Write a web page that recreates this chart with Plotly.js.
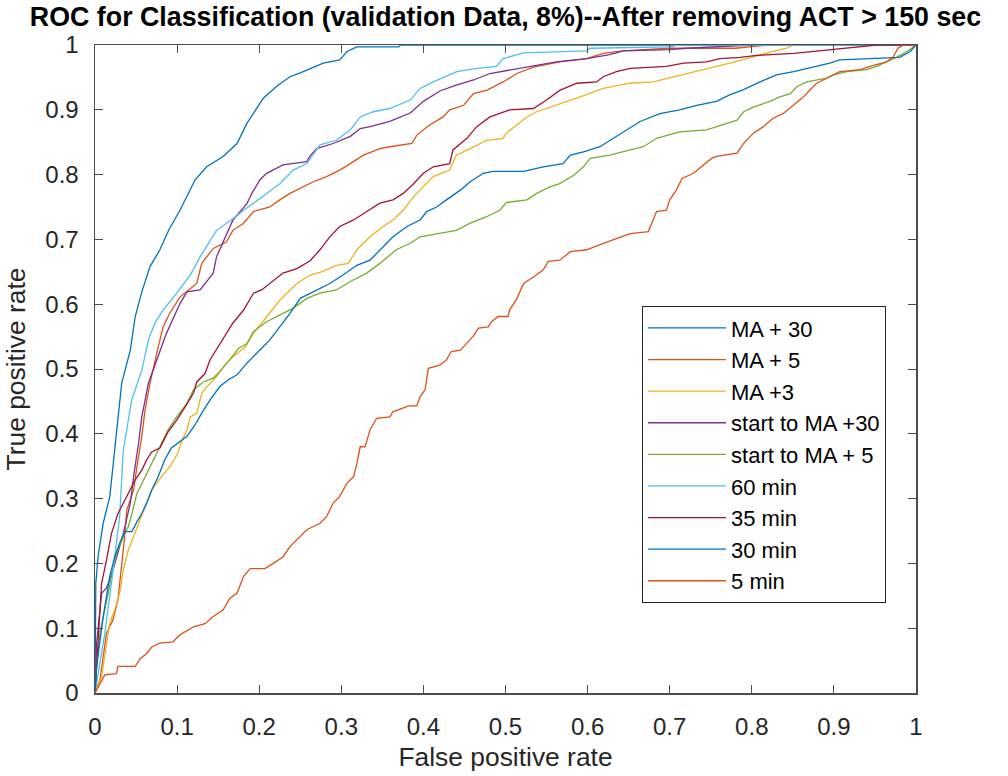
<!DOCTYPE html>
<html>
<head>
<meta charset="utf-8">
<script src="https://cdn.plot.ly/plotly-3.0.1.min.js"></script>
<style>
  html, body { margin: 0; padding: 0; background: #fff; }
  #chart { width: 1008px; height: 776px; }
</style>
</head>
<body>
<div id="chart"></div>
<script>
// Series names (legend order)
const seriesNames = ["MA + 30", "MA + 5", "MA +3", "start to MA +30", "start to MA + 5", "60 min", "35 min", "30 min", "5 min"];
const seriesColors = ["#0072BD", "#D95319", "#EDB120", "#7E2F8E", "#77AC30", "#4DBEEE", "#A2142F", "#0072BD", "#D95319"];

// MA + 30 (upper dark blue)
const ma30_fpr = [0,0.001,0.004,0.010,0.018,0.024,0.0325,0.043,0.049,0.057,0.067,0.079,0.09,0.1035,0.122,0.136,0.156,0.173,0.185,0.205,0.221,0.2375,0.25,0.278,0.298,0.307,0.319,0.37,0.372,1];
const ma30_tpr = [0,0.17,0.213,0.262,0.303,0.375,0.478,0.529,0.581,0.619,0.658,0.684,0.715,0.745,0.792,0.812,0.828,0.848,0.879,0.918,0.936,0.951,0.957,0.972,0.977,0.99,0.997,0.997,1,1];

// MA + 5 (upper orange)
const ma5_fpr = [0,0.006,0.014,0.022,0.028,0.0325,0.0365,0.0386,0.047,0.051,0.057,0.061,0.067,0.077,0.083,0.091,0.1035,0.114,0.124,0.13,0.144,0.16,0.168,0.181,0.193,0.213,0.225,0.2375,0.25,0.266,0.282,0.298,0.311,0.327,0.347,0.359,0.386,0.392,0.408,0.424,0.432,0.449,0.461,0.477,0.497,0.514,0.534,0.566,0.599,0.619,0.643,0.70,0.78,0.82,1];
const ma5_tpr = [0,0.02,0.092,0.113,0.144,0.195,0.246,0.282,0.313,0.349,0.396,0.437,0.478,0.534,0.565,0.586,0.611,0.622,0.632,0.663,0.686,0.696,0.714,0.725,0.743,0.75,0.761,0.771,0.779,0.789,0.797,0.807,0.817,0.83,0.84,0.843,0.848,0.861,0.877,0.889,0.9,0.907,0.925,0.93,0.943,0.956,0.966,0.974,0.979,0.987,0.991,0.995,0.995,1,1];

// MA +3 (yellow)
const ma3_fpr = [0,0.002,0.008,0.012,0.018,0.024,0.03,0.0345,0.0406,0.047,0.053,0.061,0.069,0.081,0.091,0.101,0.106,0.112,0.116,0.124,0.13,0.138,0.148,0.158,0.168,0.183,0.193,0.209,0.225,0.246,0.262,0.274,0.294,0.3085,0.319,0.335,0.351,0.363,0.3755,0.388,0.4,0.412,0.432,0.44,0.457,0.477,0.497,0.501,0.514,0.526,0.538,0.554,0.5705,0.591,0.619,0.652,0.68,0.70,0.733,0.753,0.773,0.794,0.81,0.826,0.8425,0.85,1];
const ma3_tpr = [0,0.005,0.025,0.056,0.108,0.128,0.154,0.19,0.221,0.241,0.262,0.288,0.313,0.334,0.349,0.37,0.39,0.406,0.426,0.432,0.463,0.475,0.488,0.506,0.519,0.534,0.555,0.581,0.606,0.632,0.645,0.649,0.66,0.663,0.684,0.704,0.72,0.73,0.745,0.766,0.781,0.797,0.807,0.83,0.84,0.853,0.856,0.864,0.877,0.889,0.897,0.904,0.91,0.92,0.933,0.941,0.943,0.949,0.959,0.966,0.972,0.979,0.985,0.99,0.995,1,1];

// start to MA +30 (purple)
const sma30_fpr = [0,0.002,0.008,0.014,0.022,0.0345,0.043,0.047,0.053,0.057,0.065,0.075,0.087,0.1035,0.112,0.128,0.144,0.148,0.168,0.185,0.191,0.201,0.209,0.229,0.258,0.262,0.27,0.29,0.311,0.323,0.335,0.359,0.384,0.40,0.42,0.44,0.461,0.481,0.505,0.538,0.562,0.599,0.627,0.643,0.70,0.72,0.80,1];
const sma30_tpr = [0,0.077,0.154,0.162,0.19,0.246,0.293,0.334,0.385,0.426,0.478,0.514,0.555,0.601,0.619,0.622,0.648,0.673,0.73,0.755,0.771,0.792,0.802,0.815,0.82,0.829,0.84,0.848,0.859,0.871,0.874,0.882,0.895,0.913,0.929,0.938,0.946,0.956,0.961,0.969,0.974,0.979,0.985,0.991,0.993,0.995,1,1];

// start to MA + 5 (green)
const sma5_fpr = [0,0.002,0.006,0.012,0.018,0.026,0.0345,0.0406,0.045,0.051,0.057,0.065,0.073,0.081,0.089,0.0995,0.112,0.12,0.132,0.144,0.152,0.164,0.175,0.185,0.193,0.209,0.225,0.2415,0.258,0.274,0.294,0.311,0.331,0.347,0.367,0.384,0.396,0.416,0.44,0.457,0.477,0.493,0.501,0.526,0.538,0.554,0.566,0.583,0.595,0.603,0.627,0.652,0.668,0.684,0.712,0.745,0.765,0.782,0.79,0.802,0.822,0.834,0.847,0.855,0.867,0.891,0.899,0.916,0.94,0.952,0.964,0.976,0.989,1];
const sma5_tpr = [0,0.041,0.092,0.128,0.169,0.216,0.241,0.257,0.277,0.308,0.323,0.344,0.365,0.385,0.406,0.426,0.447,0.468,0.48,0.486,0.496,0.514,0.532,0.539,0.558,0.573,0.583,0.594,0.609,0.617,0.622,0.635,0.648,0.663,0.684,0.694,0.704,0.709,0.714,0.725,0.735,0.745,0.757,0.761,0.771,0.781,0.786,0.799,0.812,0.825,0.83,0.838,0.843,0.856,0.866,0.869,0.877,0.884,0.897,0.904,0.913,0.92,0.925,0.936,0.943,0.949,0.954,0.959,0.962,0.967,0.974,0.981,0.99,1];

// 60 min (light blue)
const m60_fpr = [0,0.005,0.012,0.020,0.030,0.0345,0.0447,0.057,0.065,0.073,0.083,0.0995,0.116,0.128,0.148,0.168,0.181,0.201,0.225,0.2415,0.258,0.274,0.294,0.311,0.323,0.339,0.359,0.384,0.396,0.412,0.4406,0.465,0.489,0.497,0.522,0.599,0.603,0.70,0.71,1];
const m60_tpr = [0,0.04,0.092,0.169,0.272,0.375,0.452,0.498,0.545,0.571,0.591,0.617,0.645,0.673,0.714,0.732,0.745,0.763,0.786,0.807,0.817,0.846,0.853,0.869,0.889,0.897,0.902,0.915,0.933,0.943,0.959,0.964,0.967,0.979,0.988,0.991,0.995,0.997,1,1];

// 35 min (dark red)
const m35_fpr = [0,0.004,0.008,0.014,0.02,0.028,0.0345,0.0406,0.049,0.057,0.063,0.069,0.079,0.089,0.0995,0.11,0.12,0.124,0.134,0.14,0.15,0.156,0.168,0.181,0.193,0.203,0.213,0.229,0.246,0.262,0.274,0.286,0.298,0.315,0.331,0.347,0.363,0.3755,0.388,0.4,0.412,0.432,0.436,0.453,0.465,0.481,0.505,0.534,0.55,0.566,0.587,0.611,0.619,0.635,0.652,0.696,0.717,0.745,0.761,0.786,0.806,0.851,0.891,0.928,0.952,1];
const m35_tpr = [0,0.077,0.169,0.205,0.246,0.277,0.293,0.308,0.329,0.344,0.36,0.372,0.378,0.403,0.421,0.442,0.463,0.48,0.493,0.514,0.534,0.547,0.571,0.591,0.617,0.622,0.632,0.648,0.655,0.667,0.684,0.704,0.72,0.73,0.743,0.756,0.761,0.771,0.786,0.802,0.812,0.817,0.838,0.856,0.874,0.889,0.9,0.902,0.915,0.93,0.941,0.943,0.951,0.959,0.964,0.967,0.972,0.974,0.979,0.981,0.984,0.987,0.992,0.997,1,1];

// 30 min (lower dark blue)
const m30_fpr = [0,0.002,0.01,0.018,0.024,0.03,0.0365,0.045,0.051,0.057,0.063,0.069,0.077,0.085,0.093,0.1035,0.112,0.122,0.13,0.14,0.152,0.162,0.173,0.185,0.201,0.213,0.225,0.2375,0.25,0.266,0.286,0.302,0.319,0.335,0.347,0.363,0.38,0.396,0.404,0.416,0.428,0.445,0.457,0.473,0.485,0.522,0.546,0.57,0.579,0.595,0.615,0.631,0.648,0.664,0.688,0.712,0.733,0.757,0.773,0.79,0.81,0.83,0.851,0.875,0.895,0.907,0.956,0.98,0.993,1];
const m30_tpr = [0,0.041,0.118,0.18,0.21,0.231,0.249,0.249,0.264,0.277,0.293,0.313,0.334,0.36,0.378,0.388,0.396,0.414,0.432,0.452,0.473,0.483,0.491,0.509,0.529,0.545,0.565,0.586,0.609,0.619,0.632,0.645,0.66,0.668,0.684,0.704,0.72,0.73,0.743,0.75,0.761,0.776,0.789,0.802,0.805,0.805,0.812,0.817,0.83,0.835,0.843,0.856,0.869,0.882,0.894,0.9,0.907,0.913,0.923,0.931,0.943,0.954,0.959,0.966,0.972,0.977,0.979,0.981,0.99,1];

// 5 min (lower orange)
const m5_fpr = [0,0.004,0.008,0.012,0.026,0.028,0.049,0.055,0.063,0.069,0.079,0.095,0.1035,0.12,0.134,0.144,0.156,0.164,0.173,0.181,0.189,0.207,0.217,0.229,0.2375,0.25,0.258,0.274,0.282,0.29,0.298,0.307,0.315,0.319,0.323,0.329,0.335,0.343,0.359,0.363,0.382,0.392,0.396,0.402,0.406,0.42,0.428,0.434,0.445,0.453,0.461,0.467,0.479,0.483,0.491,0.503,0.505,0.514,0.522,0.534,0.546,0.552,0.566,0.579,0.599,0.619,0.635,0.652,0.674,0.684,0.696,0.70,0.708,0.715,0.729,0.739,0.751,0.757,0.782,0.79,0.802,0.814,0.826,0.838,0.851,0.863,0.871,0.879,0.895,0.907,0.932,0.944,0.964,0.972,0.978,0.985,1];
const m5_tpr = [0,0.01,0.02,0.028,0.03,0.041,0.041,0.053,0.061,0.071,0.077,0.079,0.09,0.102,0.107,0.118,0.128,0.146,0.154,0.18,0.192,0.192,0.2,0.21,0.226,0.241,0.252,0.262,0.272,0.293,0.303,0.324,0.334,0.354,0.38,0.38,0.406,0.424,0.426,0.434,0.443,0.443,0.457,0.468,0.501,0.506,0.514,0.527,0.529,0.54,0.551,0.563,0.565,0.573,0.581,0.581,0.591,0.609,0.632,0.642,0.653,0.666,0.668,0.681,0.684,0.694,0.701,0.709,0.712,0.743,0.745,0.761,0.776,0.794,0.802,0.812,0.825,0.828,0.833,0.848,0.864,0.874,0.887,0.894,0.907,0.92,0.931,0.941,0.951,0.959,0.962,0.967,0.974,0.981,0.995,1,1];

const seriesX = [ma30_fpr, ma5_fpr, ma3_fpr, sma30_fpr, sma5_fpr, m60_fpr, m35_fpr, m30_fpr, m5_fpr];
const seriesY = [ma30_tpr, ma5_tpr, ma3_tpr, sma30_tpr, sma5_tpr, m60_tpr, m35_tpr, m30_tpr, m5_tpr];

const axisTicks = [0,0.1,0.2,0.3,0.4,0.5,0.6,0.7,0.8,0.9,1];
const axisTickText = ["0","0.1","0.2","0.3","0.4","0.5","0.6","0.7","0.8","0.9","1"];

const FONT = "'Liberation Sans', Arial, Helvetica, sans-serif";

const traces = seriesNames.map((name, i) => ({
  type: 'scatter',
  mode: 'lines',
  name: name,
  x: seriesX[i],
  y: seriesY[i],
  line: { color: seriesColors[i], width: 1.3 },
  legendgroup: 'g' + i,
  hoverinfo: 'skip'
}));

const axisCommon = {
  range: [0, 1],
  tickmode: 'array',
  tickvals: axisTicks,
  ticktext: axisTickText,
  ticks: 'inside',
  ticklen: 8,
  tickwidth: 1,
  tickcolor: '#4d4d4d',
  showline: true,
  linecolor: '#4d4d4d',
  linewidth: 1.5,
  mirror: 'ticks',
  showgrid: false,
  zeroline: false,
  tickfont: { family: FONT, size: 24, color: '#262626' }
};

const layout = {
  width: 1008,
  height: 776,
  margin: { l: 95, r: 92, t: 45, b: 83 },
  paper_bgcolor: '#ffffff',
  plot_bgcolor: '#ffffff',
  title: {
    text: 'ROC for Classification (validation Data, 8%)--After removing ACT > 150 sec',
    font: { family: FONT, size: 26.8, color: '#000000', weight: 'bold' },
    x: 0.5, xref: 'paper', xanchor: 'center',
    y: 0.991, yref: 'container', yanchor: 'top'
  },
  xaxis: Object.assign({}, axisCommon, {
    ticklabelstandoff: 12,
    title: { text: 'False positive rate', font: { family: FONT, size: 26.4, color: '#262626' }, standoff: 8 }
  }),
  yaxis: Object.assign({}, axisCommon, {
    ticklabelstandoff: 10,
    title: { text: 'True positive rate', font: { family: FONT, size: 26.4, color: '#262626' }, standoff: 12 }
  }),
  showlegend: true,
  legend: {
    x: 0.6663, y: 0.597, xanchor: 'left', yanchor: 'top',
    bgcolor: '#ffffff',
    bordercolor: '#262626',
    borderwidth: 1,
    font: { family: FONT, size: 22, color: '#000000' },
    itemwidth: 78,
    traceorder: 'normal',
    tracegroupgap: 0
  }
};

Plotly.newPlot('chart', traces, layout, { staticPlot: true, displayModeBar: false });
</script>
</body>
</html>
